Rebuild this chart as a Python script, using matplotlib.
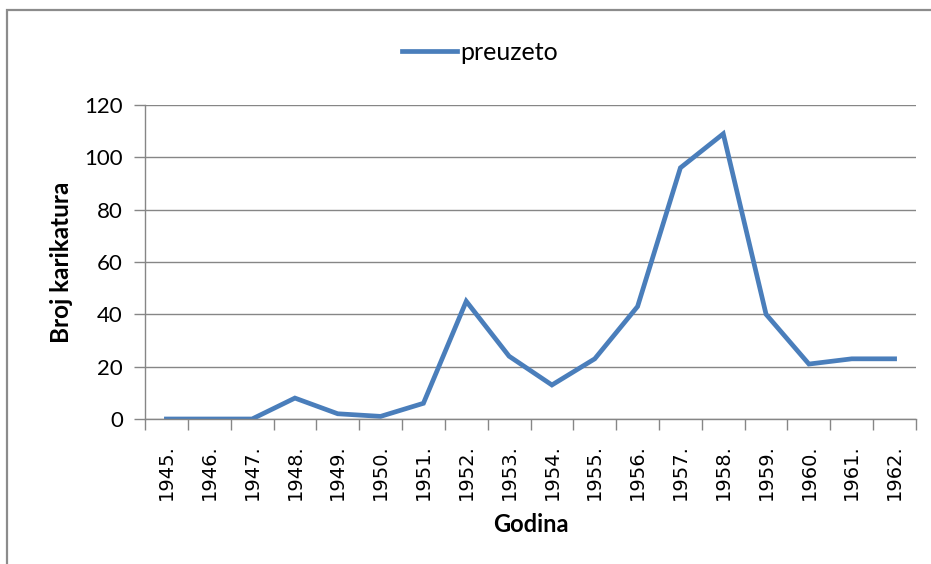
import numpy as np
import matplotlib.pyplot as plt
from matplotlib.patches import Rectangle

years = ['1945.', '1946.', '1947.', '1948.', '1949.', '1950.', '1951.', '1952.', '1953.',
         '1954.', '1955.', '1956.', '1957.', '1958.', '1959.', '1960.', '1961.', '1962.']
preuzeto = [0, 0, 0, 8, 2, 1, 6, 45, 24, 13, 23, 43, 96, 109, 40, 21, 23, 23]

LINE_BLUE = '#4a7ebb'
GRID_GREY = '#868686'

plt.rcParams['font.family'] = ['Lato', 'DejaVu Sans']

fig = plt.figure(figsize=(9.31, 5.64), dpi=100)
ax = fig.add_axes([145 / 931, 1 - 419 / 564, 771 / 931, 314 / 564])

x = np.arange(len(years))
ax.plot(x, preuzeto, color=LINE_BLUE, linewidth=3.4, solid_joinstyle='miter',
        label='preuzeto')

ax.set_xlim(-0.5, len(years) - 0.5)
ax.set_ylim(0, 120)
ax.set_yticks(np.arange(0, 121, 20))
ax.yaxis.grid(True, color=GRID_GREY, linewidth=1)
ax.set_axisbelow(True)

# category labels in the middle, tick marks on the boundaries
ax.set_xticks(x)
ax.set_xticklabels(years, rotation=90, family='DejaVu Sans', fontsize=14)
ax.set_xticks(np.arange(-0.5, len(years)), minor=True)
ax.tick_params(axis='x', which='major', length=0, pad=18)
ax.tick_params(axis='x', which='minor', length=8, color=GRID_GREY, width=1)
ax.tick_params(axis='y', length=8, color=GRID_GREY, width=1, pad=8, labelsize=16)

for side in ('top', 'right'):
    ax.spines[side].set_visible(False)
for side in ('left', 'bottom'):
    ax.spines[side].set_color(GRID_GREY)
    ax.spines[side].set_linewidth(1)

ax.set_xlabel('Godina', fontsize=17, fontweight='bold', labelpad=9)
ax.set_ylabel('Broj karikatura', fontsize=17.5, fontweight='bold', labelpad=8)

fig.legend(loc='center', bbox_to_anchor=(480 / 931, 1 - 52 / 564), frameon=False,
           fontsize=18, handlelength=2.2, handletextpad=0.1)

# chart frame
fig.add_artist(Rectangle((7 / 931, -0.1), 1.2, 1.1 - 10 / 564,
                         transform=fig.transFigure, fill=False,
                         edgecolor='#8c8c8c', linewidth=1.6))

fig.savefig('out.png', dpi=100)
